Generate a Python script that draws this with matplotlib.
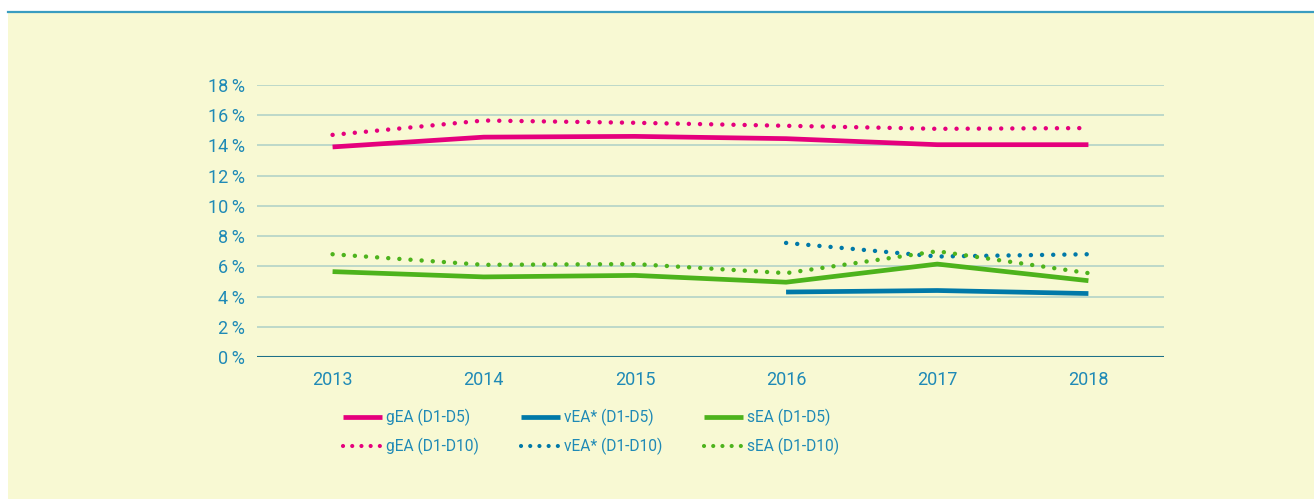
import matplotlib
matplotlib.use("Agg")
import matplotlib.pyplot as plt
from matplotlib.lines import Line2D
from matplotlib.patches import Rectangle

# ---- data ----
years = [2013, 2014, 2015, 2016, 2017, 2018]
gea_d5 = [13.9, 14.55, 14.6, 14.45, 14.05, 14.05]
gea_d10 = [14.7, 15.65, 15.5, 15.3, 15.1, 15.15]
sea_d5 = [5.65, 5.3, 5.4, 4.95, 6.15, 5.05]
sea_d10 = [6.8, 6.1, 6.15, 5.55, 7.0, 5.55]
vea_years = [2016, 2017, 2018]
vea_d5 = [4.3, 4.4, 4.2]
vea_d10 = [7.55, 6.65, 6.8]
yticks = [0, 2, 4, 6, 8, 10, 12, 14, 16, 18]
ytick_labels = [f"{v}\u2009%" for v in yticks]

PINK = "#E5007D"
BLUE = "#0079A8"
GREEN = "#4DB31C"
TEXT = "#1F8AB6"
BG = "#F8F9D3"
GRID = "#B3D3C8"
AXIS = "#1E7088"

plt.rcParams['font.family'] = ['Roboto', 'DejaVu Sans']

W, H = 1314, 499
fig = plt.figure(figsize=(W / 100, H / 100), dpi=100, facecolor="white")

# background panel and top rule
fig.patches.append(Rectangle((8 / W, 0), 1 - 8 / W, 1 - 13 / H, transform=fig.transFigure,
                             facecolor=BG, edgecolor="none", zorder=-5))
fig.lines.append(Line2D([8 / W, 1], [1 - 11.5 / H, 1 - 11.5 / H], transform=fig.transFigure,
                        color="#3A9DC0", lw=1.6, zorder=-4))

ax = fig.add_axes([257 / W, 1 - 357 / H, (1164 - 257) / W, (357 - 85) / H])
ax.set_zorder(2)
ax.patch.set_visible(False)
for s in ax.spines.values():
    s.set_visible(False)

ax.set_xlim(2012.5, 2018.5)
ax.set_ylim(0, 18)
ax.set_yticks(yticks)
ax.set_yticklabels(ytick_labels)
ax.set_xticks(years)
ax.set_xticklabels([str(y) for y in years])
ax.tick_params(axis='y', length=0, pad=9, labelsize=13, labelcolor=TEXT)
ax.tick_params(axis='x', length=0, pad=10, labelsize=13, labelcolor=TEXT)
ax.set_axisbelow(True)
ax.grid(axis='y', color=GRID, lw=1.2)
ax.grid(axis='x', visible=False)
ax.axhline(0, color=AXIS, lw=1.5, zorder=2)

dot = (0, (0.01, 2.5))
solid_kw = dict(lw=3.4, solid_capstyle='butt', solid_joinstyle='round', clip_on=False, zorder=3)
dot_kw = dict(lw=3.2, linestyle=dot, dash_capstyle='round', clip_on=False, zorder=3)

ax.plot(years, gea_d5, color=PINK, **solid_kw)
ax.plot(years, gea_d10, color=PINK, **dot_kw)
ax.plot(vea_years, vea_d5, color=BLUE, **solid_kw)
ax.plot(vea_years, vea_d10, color=BLUE, **dot_kw)
ax.plot(years, sea_d5, color=GREEN, **solid_kw)
ax.plot(years, sea_d10, color=GREEN, **dot_kw)

ldot = (0, (0.01, 2.2))
lh = [Line2D([], [], color=PINK, lw=3.4, solid_capstyle='butt'),
      Line2D([], [], color=PINK, lw=3.0, linestyle=ldot, dash_capstyle='round'),
      Line2D([], [], color=BLUE, lw=3.4, solid_capstyle='butt'),
      Line2D([], [], color=BLUE, lw=3.0, linestyle=ldot, dash_capstyle='round'),
      Line2D([], [], color=GREEN, lw=3.4, solid_capstyle='butt'),
      Line2D([], [], color=GREEN, lw=3.0, linestyle=ldot, dash_capstyle='round')]
labels = ["gEA (D1-D5)", "gEA (D1-D10)", "vEA* (D1-D5)", "vEA* (D1-D10)",
          "sEA (D1-D5)", "sEA (D1-D10)"]
leg = fig.legend(lh, labels, ncol=3, loc='upper left',
                 bbox_to_anchor=(343 / W, 1 - 409 / H), frameon=False,
                 borderpad=0, borderaxespad=0, fontsize=11.2,
                 handlelength=2.5, handletextpad=0.25, columnspacing=2.72,
                 labelspacing=0.75)
for t in leg.get_texts():
    t.set_color(TEXT)

fig.savefig("out.png", dpi=100, facecolor="white")
